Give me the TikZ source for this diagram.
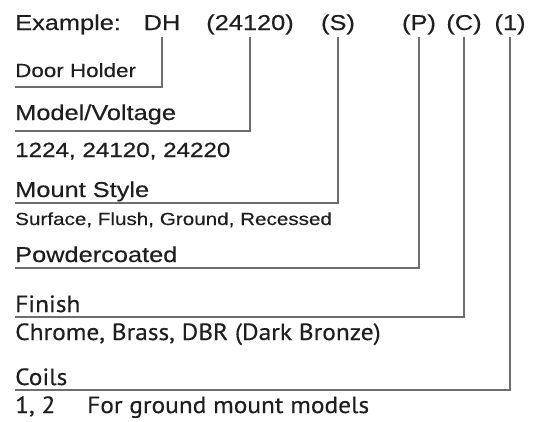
\documentclass[tikz,border=0pt]{standalone}
\usepackage{fontspec}
\newfontfamily\hv[FakeStretch=1.18,FakeBold=0.4]{Liberation Sans}
\newfontfamily\my[FakeStretch=1.08,FakeBold=0.3]{PT Sans}
\definecolor{txt}{HTML}{1E1E1E}
\definecolor{ln}{HTML}{6E6E6E}
\begin{document}
\begin{tikzpicture}[x=1pt,y=-1pt,
  lbl/.style={anchor=base west, inner sep=0pt, text=txt},
  toplbl/.style={anchor=base, inner sep=0pt, text=txt, text depth=5pt, font=\hv\fontsize{21.5}{24}\selectfont},
  hvbig/.style={lbl, font=\hv\fontsize{21.5}{24}\selectfont},
  hvmid/.style={lbl, font=\hv\fontsize{20.5}{24}\selectfont},
  hvsmall/.style={lbl, font=\hv\fontsize{19}{22}\selectfont},
  hvtiny/.style={lbl, font=\hv\fontsize{17.5}{20}\selectfont},
  mybig/.style={lbl, font=\my\fontsize{23.5}{26}\selectfont},
  lead/.style={draw=ln, line width=1.8pt}]
\useasboundingbox (0,0) rectangle (538,421);
% top row
\node[hvbig] (ex) at (15,30) {Example:};
\node[toplbl] (tDH) at (162,30) {DH};
\node[toplbl] (tMV) at (250,30) {(24120)};
\node[toplbl] (tMS) at (338,30) {(S)};
\node[toplbl] (tPC) at (419,30) {(P)};
\node[toplbl] (tFi) at (464,30) {(C)};
\node[toplbl] (tCo) at (510,30) {(1)};
% descriptions
\node[hvsmall] (dDH) at (15,77) {Door Holder};
\node[hvbig] (dMV) at (15,120) {Model/Voltage};
\node[hvmid] (vMV) at (15,157) {1224, 24120, 24220};
\node[hvbig] (dMS) at (15,197) {Mount Style};
\node[hvtiny] (vMS) at (15,225) {Surface, Flush, Ground, Recessed};
\node[hvbig] (dPC) at (15,262) {Powdercoated};
\node[mybig] (dFi) at (15,312) {Finish};
\node[mybig] (vFi) at (15,340) {Chrome, Brass, DBR (Dark Bronze)};
\node[mybig] (dCo) at (15,385) {Coils};
\node[mybig] (vCo) at (15,413) {1, 2};
\node[mybig] (nCo) at (87,413) {For ground mount models};
% line ends
\coordinate (eDH) at (15,87);
\coordinate (eMV) at (15,131);
\coordinate (eMS) at (15,203);
\coordinate (ePC) at (15,268);
\coordinate (eFi) at (15,317);
\coordinate (eCo) at (15,390);
\draw[lead] ([yshift=-2pt]tDH.south) |- (eDH);
\draw[lead] ([yshift=-2pt]tMV.south) |- (eMV);
\draw[lead] ([yshift=-2pt]tMS.south) |- (eMS);
\draw[lead] ([yshift=-2pt]tPC.south) |- (ePC);
\draw[lead] ([yshift=-2pt]tFi.south) |- (eFi);
\draw[lead] ([yshift=-2pt]tCo.south) |- (eCo);
\end{tikzpicture}
\end{document}
